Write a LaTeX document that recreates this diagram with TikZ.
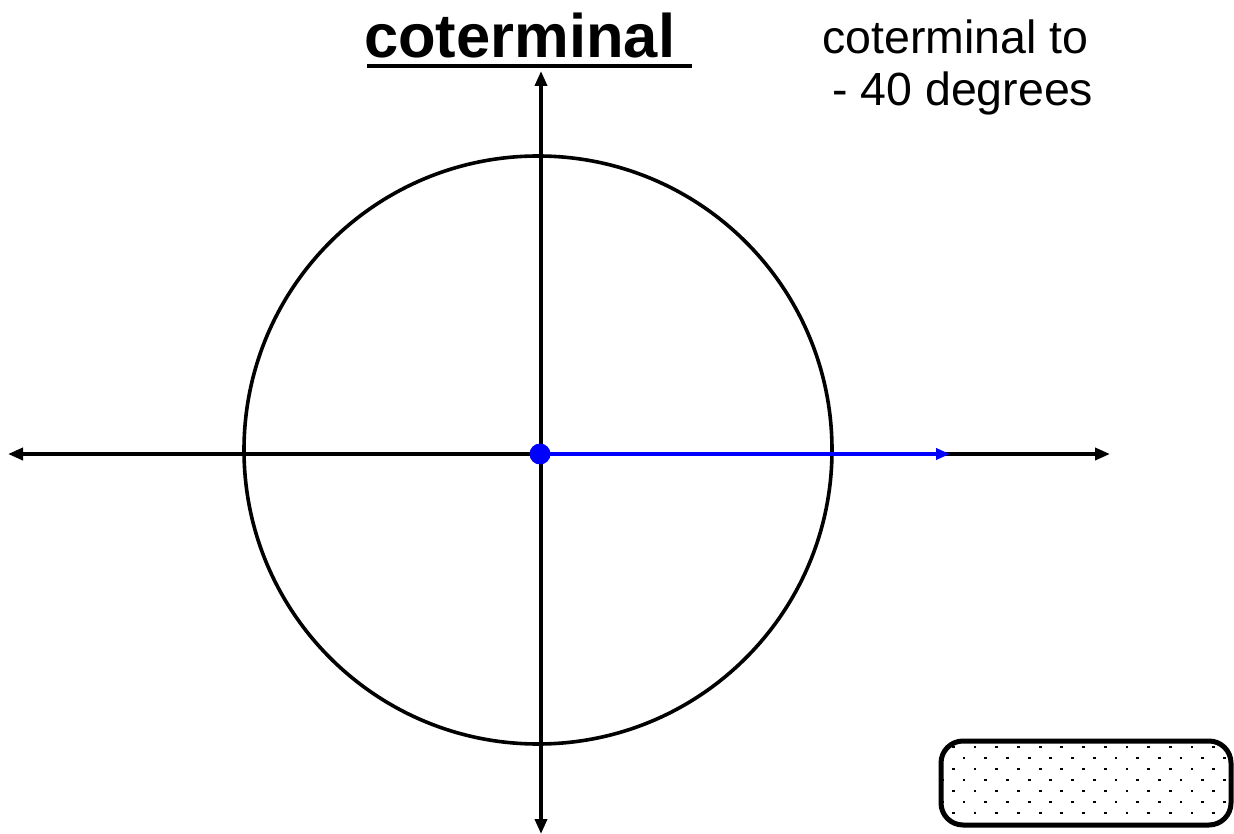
\documentclass[tikz,border=0pt]{standalone}
\usepackage{fontspec}
\setmainfont{Liberation Sans}
\usetikzlibrary{arrows.meta}
\begin{document}
\begin{tikzpicture}[x=1pt,y=-1pt,
  tip/.style={Triangle[length=15pt,width=12pt]},
  axisboth/.style={line width=3.6pt,{Triangle[length=15pt,width=12pt]}-{Triangle[length=15pt,width=12pt]}},
  txt/.style={inner sep=0pt,anchor=base west}]
\useasboundingbox (0,0) rectangle (1234,834);
% circle
\node[circle,draw,line width=3.6pt,minimum size=588pt,inner sep=0pt] (circ) at (538,450) {};
% axes
\coordinate (xl) at (8,454);
\coordinate (xr) at (1110,454);
\coordinate (yt) at (541,71);
\coordinate (yb) at (541,834);
\coordinate (o) at (540,454);
\coordinate (bt) at (950,454);
\draw[axisboth] (xl) -- (xr);
\draw[axisboth] (yt) -- (yb);
% blue ray
\draw[blue,line width=4.5pt,-{Triangle[length=14pt,width=11pt]}] (o) -- (bt);
\fill[blue] (o) circle (10.5pt);
% title
\node[txt,font=\bfseries\fontsize{61.5}{72}\selectfont] (title) at (364,58) {coterminal};
\draw[line width=4.5pt] (367,66) -- (692,66);
% right text
\node[txt,font=\fontsize{46.5}{54}\selectfont] (t1) at (822,54) {coterminal to};
\node[txt,font=\fontsize{46.5}{54}\selectfont] (t2) at (832,106) {- 40 degrees};
% box
\begin{scope}
\clip[rounded corners=22pt] (941,741) rectangle (1231,825);
\foreach \r in {0,...,7}{
  \pgfmathsetmacro{\yy}{747+11*\r}
  \pgfmathsetmacro{\xo}{mod(\r,2)==0 ? 975 : 964}
  \foreach \c in {-1,...,13}{
    \fill ({\xo+21.7*\c-1.4},{\yy-1.4}) rectangle ++(2.8,2.8);
  }
}
\end{scope}
\node[draw,line width=5pt,rounded corners=22pt,minimum width=290pt,minimum height=84pt,inner sep=0pt] (box) at (1086,783) {};
\end{tikzpicture}
\end{document}
